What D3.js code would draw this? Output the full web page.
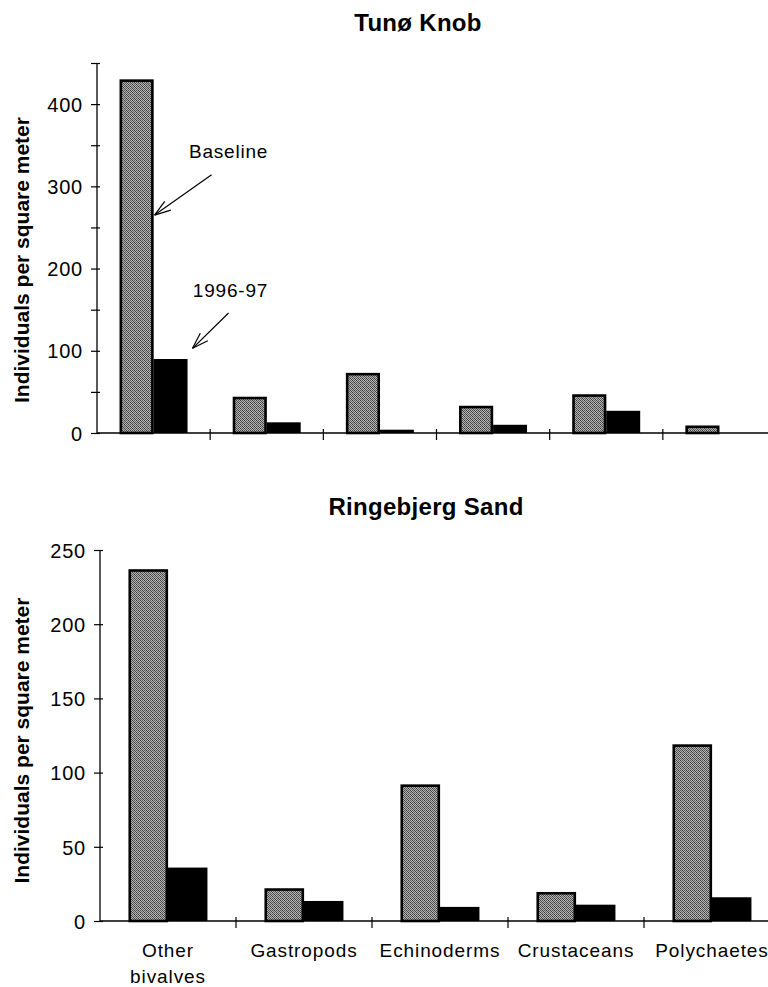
<!DOCTYPE html>
<html><head><meta charset="utf-8">
<script src="https://cdn.jsdelivr.net/npm/d3@7"></script>
<style>
body{margin:0;background:#fff;}
svg{display:block;font-family:Arial,"Liberation Sans",sans-serif;}
</style></head><body>
<svg id="c" width="768" height="987"></svg>
<script>
// ---- data ----
const topTitle = "Tunø Knob";
const bottomTitle = "Ringebjerg Sand";
const yLabel = "Individuals per square meter";
const topCategories = ["Other bivalves","Gastropods","Echinoderms","Crustaceans","Polychaetes","Other"];
const topBaseline = [430, 44, 73, 33, 47, 9];
const top9697 = [90, 13, 4, 10, 27, 0];
const topTicks = [0,100,200,300,400];
const bottomCategories = ["Other bivalves","Gastropods","Echinoderms","Crustaceans","Polychaetes"];
const bottomBaseline = [237, 22, 92, 19.5, 119];
const bottom9697 = [36, 13.5, 9.5, 11, 16];
const bottomTicks = [0,50,100,150,200,250];
const xLabelLines = [["Other","bivalves"],["Gastropods"],["Echinoderms"],["Crustaceans"],["Polychaetes"]];
const seriesNames = ["Baseline","1996-97"];

const svg = d3.select("#c");
const defs = svg.append("defs");
const pat = defs.append("pattern").attr("id","stip").attr("patternUnits","userSpaceOnUse")
  .attr("width",4).attr("height",4);
pat.append("rect").attr("width",4).attr("height",4).attr("fill","#b4b4b4");
[[0,0,"#3a3a3a"],[2,0,"#5a5a5a"],[1,1,"#4a4a4a"],[3,1,"#666"],[0,2,"#555"],[2,2,"#333"],[1,3,"#606060"],[3,3,"#444"]]
  .forEach(p=>pat.append("rect").attr("x",p[0]).attr("y",p[1]).attr("width",1).attr("height",1).attr("fill",p[2]));

function panel(cfg){
  const g = svg.append("g");
  const x = d3.scaleBand().domain(cfg.cats).range([cfg.x0, cfg.x1]).paddingInner(cfg.pad).paddingOuter(cfg.pad/2);
  const xs = d3.scaleBand().domain([0,1]).range([0, x.bandwidth()]);
  const y = d3.scaleLinear().domain([0, cfg.ymax]).range([cfg.y0, cfg.y1]);

  // bars
  cfg.cats.forEach((c,i)=>{
    const b = cfg.base[i], n = cfg.new[i];
    g.append("rect").attr("x", x(c)+xs(0)+1.2).attr("y", y(b)+1.2)
      .attr("width", xs.bandwidth()-2.4).attr("height", Math.max(0, y(0)-y(b)-1.2))
      .attr("fill","url(#stip)").attr("stroke","#000").attr("stroke-width",2.6);
    if(n>0) g.append("rect").attr("x", x(c)+xs(1)).attr("y", y(n))
      .attr("width", xs.bandwidth()).attr("height", y(0)-y(n)).attr("fill","#000");
  });

  // y axis
  const ya = d3.axisLeft(y).tickValues(d3.range(0, cfg.ymax+0.1, cfg.minor)).tickSize(6).tickFormat(d => cfg.labels.includes(d) ? d : "");
  const ag = g.append("g").attr("transform",`translate(${cfg.x0},0)`).call(ya);
  ag.attr("font-size",null).attr("font-family",null);
  ag.select(".domain").attr("stroke","#000").attr("stroke-width",1.3).attr("d",`M0,${y(cfg.ymax)}V${y(0)}`);
  ag.selectAll(".tick line").attr("x1",-6).attr("x2",3).attr("stroke","#000").attr("stroke-width",1.2);
  ag.selectAll(".tick text").attr("x",-14).attr("fill","#000").attr("dy","0.36em")
    .style("font-size","20px").style("font-family","Arial, 'Liberation Sans', sans-serif").style("letter-spacing","0.8px");

  // x axis
  g.append("line").attr("x1",cfg.x0).attr("x2",768).attr("y1",y(0)).attr("y2",y(0)).attr("stroke","#000").attr("stroke-width",1.5);
  d3.range(1, cfg.cats.length+1).forEach(i=>{
    const xx = cfg.x0 + i*x.step();
    g.append("line").attr("x1",xx).attr("x2",xx).attr("y1",y(0)-4).attr("y2",y(0)+7).attr("stroke","#000").attr("stroke-width",1.2);
  });

  // title
  g.append("text").attr("x",cfg.tx).attr("y",cfg.ty).attr("text-anchor","middle")
    .attr("font-weight","bold").style("font-size","24px").style("letter-spacing","0.3px").text(cfg.title);
  // y label
  g.append("text").attr("transform",`translate(${cfg.lx},${(y(0)+y(cfg.ymax))/2 + cfg.ldy}) rotate(-90)`)
    .attr("text-anchor","middle").attr("font-weight","bold").style("font-size","21px").text(yLabel);

  return {x, xs, y, g};
}

const T = panel({cats:topCategories, base:topBaseline, new:top9697, x0:97, x1:776, pad:0.4,
  y0:433, y1:63, ymax:450, minor:50, labels:topTicks, title:topTitle, tx:418, ty:31, lx:29, ldy:12});
const B = panel({cats:bottomCategories, base:bottomBaseline, new:bottom9697, x0:100, x1:780, pad:0.42,
  y0:921, y1:550, ymax:250, minor:50, labels:bottomTicks, title:bottomTitle, tx:426, ty:515, lx:29, ldy:5});

// x labels (bottom)
bottomCategories.forEach((c,i)=>{
  xLabelLines[i].forEach((ln,j)=>{
    B.g.append("text").attr("x", B.x(c)+B.x.bandwidth()/2).attr("y", 957 + j*26)
      .attr("text-anchor","middle").style("font-size","19px").style("letter-spacing","0.9px").text(ln);
  });
});

// annotations (top)
function arrow(g, x1,y1,x2,y2){
  g.append("line").attr("x1",x1).attr("y1",y1).attr("x2",x2).attr("y2",y2).attr("stroke","#000").attr("stroke-width",1.2);
  const a = Math.atan2(y1-y2, x1-x2), L=17, s=0.32;
  [a+s, a-s].forEach(t=>{
    g.append("line").attr("x1",x2).attr("y1",y2).attr("x2",x2+L*Math.cos(t)).attr("y2",y2+L*Math.sin(t))
      .attr("stroke","#000").attr("stroke-width",1.2);
  });
}
const c0 = topCategories[0];
const bx = T.x(c0)+T.xs(0)+T.xs.bandwidth();
arrow(T.g, bx+58, T.y(314), bx+1, T.y(265));
T.g.append("text").attr("x", bx+75).attr("y", T.y(335)).attr("text-anchor","middle")
  .style("font-size","19px").style("letter-spacing","0.8px").text(seriesNames[0]);
const nx = T.x(c0)+T.xs(1)+T.xs.bandwidth();
arrow(T.g, nx+41, T.y(146), nx+5, T.y(103));
T.g.append("text").attr("x", nx+43).attr("y", T.y(166)).attr("text-anchor","middle")
  .style("font-size","19px").style("letter-spacing","0.8px").text(seriesNames[1]);
</script>
</body></html>
